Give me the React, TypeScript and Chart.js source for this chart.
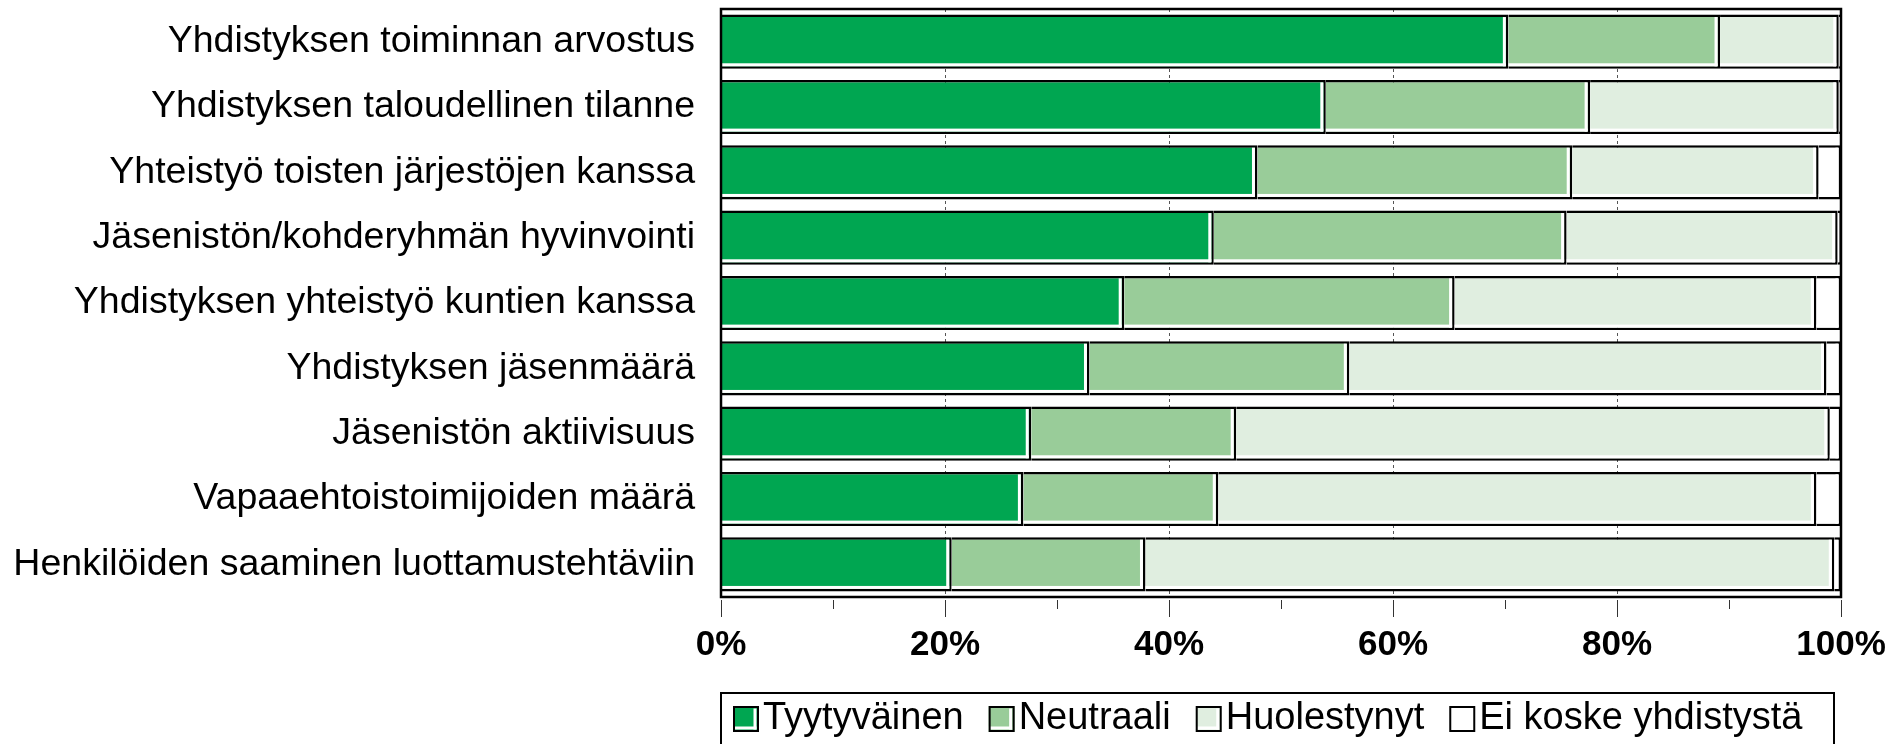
import { useEffect, useRef } from 'react';
import { Chart, registerables } from 'chart.js';

Chart.register(...registerables);

const categories = [
  'Yhdistyksen toiminnan arvostus',
  'Yhdistyksen taloudellinen tilanne',
  'Yhteistyö toisten järjestöjen kanssa',
  'Jäsenistön/kohderyhmän hyvinvointi',
  'Yhdistyksen yhteistyö kuntien kanssa',
  'Yhdistyksen jäsenmäärä',
  'Jäsenistön aktiivisuus',
  'Vapaaehtoistoimijoiden määrä',
  'Henkilöiden saaminen luottamustehtäviin',
];
const seriesNames = ['Tyytyväinen', 'Neutraali', 'Huolestynyt', 'Ei koske yhdistystä'];
const tyytyvainen = [70.3, 54.0, 47.9, 44.0, 36.0, 32.9, 27.7, 27.0, 20.6];
const neutraali = [18.9, 23.6, 28.1, 31.5, 29.5, 23.2, 18.3, 17.4, 17.3];
const huolestynyt = [10.6, 22.2, 22.0, 24.2, 32.3, 42.6, 53.0, 53.4, 61.5];
const eiKoske = [0.2, 0.2, 2.0, 0.3, 2.2, 1.3, 1.0, 2.2, 0.6];
const xMajorTicks = [0, 20, 40, 60, 80, 100];
const xMinorTicks = [10, 30, 50, 70, 90];
const seriesColors = ['#00A651', '#99CC99', '#E0EEE0', '#FFFFFF'];

const FONT = '"Liberation Sans", Arial, Helvetica, sans-serif';
const BW = 2.5;
const GAP = 3;

const decorPlugin = {
  id: 'decor',
  beforeDatasetsDraw(chart: any) {
    const { ctx, chartArea } = chart;
    const xs = chart.scales.x;
    ctx.save();
    ctx.strokeStyle = '#555';
    ctx.lineWidth = 1;
    ctx.setLineDash([3, 3]);
    xMajorTicks.slice(1, -1).forEach((v) => {
      const x = Math.round(xs.getPixelForValue(v)) + 0.5;
      ctx.beginPath();
      ctx.moveTo(x, chartArea.top);
      ctx.lineTo(x, chartArea.bottom);
      ctx.stroke();
    });
    ctx.restore();
  },
  afterDatasetsDraw(chart: any) {
    const { ctx, chartArea } = chart;
    ctx.save();
    ctx.fillStyle = '#FFFFFF';
    chart.data.datasets.forEach((_ds: any, i: number) => {
      const meta = chart.getDatasetMeta(i);
      meta.data.forEach((el: any) => {
        const p = el.getProps(['x', 'y', 'base', 'height'], true);
        const left = Math.min(p.x, p.base);
        const right = Math.max(p.x, p.base);
        const top = p.y - p.height / 2;
        const bottom = p.y + p.height / 2;
        if (right - left < BW + GAP + 2) return;
        ctx.fillRect(right - BW - GAP, top + BW, GAP, bottom - top - 2 * BW);
        ctx.fillRect(left, bottom - BW - GAP, right - left - BW, GAP);
      });
    });
    ctx.strokeStyle = '#000';
    ctx.lineWidth = 2.5;
    ctx.strokeRect(chartArea.left, chartArea.top, chartArea.right - chartArea.left, chartArea.bottom - chartArea.top);
    ctx.restore();
  },
  afterDraw(chart: any) {
    const { ctx, chartArea } = chart;
    const xs = chart.scales.x;
    ctx.save();
    // tick marks
    ctx.strokeStyle = '#333';
    ctx.lineWidth = 1;
    const y0 = chartArea.bottom + 3;
    xMajorTicks.forEach((v) => {
      const x = Math.round(xs.getPixelForValue(v)) + 0.5;
      ctx.beginPath();
      ctx.moveTo(x, y0);
      ctx.lineTo(x, y0 + 17);
      ctx.stroke();
    });
    xMinorTicks.forEach((v) => {
      const x = Math.round(xs.getPixelForValue(v)) + 0.5;
      ctx.beginPath();
      ctx.moveTo(x, y0);
      ctx.lineTo(x, y0 + 9);
      ctx.stroke();
    });
    // legend
    const boxTop = chartArea.bottom + 96;
    const boxLeft = chartArea.left;
    const boxRight = chartArea.right - 7;
    ctx.lineWidth = 2;
    ctx.strokeStyle = '#000';
    ctx.beginPath();
    ctx.moveTo(boxLeft, chart.height + 10);
    ctx.lineTo(boxLeft, boxTop);
    ctx.lineTo(boxRight, boxTop);
    ctx.lineTo(boxRight, chart.height + 10);
    ctx.stroke();
    const cy = boxTop + 26;
    const sq = 26;
    ctx.font = `38px ${FONT}`;
    ctx.textBaseline = 'middle';
    ctx.textAlign = 'left';
    let x = boxLeft + 12;
    chart.data.datasets.forEach((ds: any) => {
      const sTop = cy - sq / 2;
      ctx.fillStyle = ds.backgroundColor;
      ctx.fillRect(x, sTop, sq, sq);
      ctx.fillStyle = '#FFFFFF';
      ctx.fillRect(x + sq - BW - GAP, sTop + BW, GAP, sq - 2 * BW);
      ctx.fillRect(x, sTop + sq - BW - GAP, sq - BW, GAP);
      ctx.strokeStyle = '#000';
      ctx.lineWidth = 2;
      ctx.strokeRect(x + 1, sTop + 1, sq - 2, sq - 2);
      ctx.fillStyle = '#000';
      const tx = x + sq + 4;
      ctx.fillText(ds.label, tx, cy);
      x = tx + ctx.measureText(ds.label).width + 25;
    });
    ctx.restore();
  },
};

export default function App() {
  const ref = useRef<HTMLCanvasElement | null>(null);
  useEffect(() => {
    if (!ref.current) return;
    const values = [tyytyvainen, neutraali, huolestynyt, eiKoske];
    const chart = new Chart(ref.current, {
      type: 'bar',
      data: {
        labels: categories,
        datasets: seriesNames.map((name, i) => ({
          label: name,
          data: values[i],
          backgroundColor: seriesColors[i],
          borderColor: '#000',
          borderWidth: BW,
          borderSkipped: 'start',
          categoryPercentage: 1,
          barPercentage: 0.83,
        })),
      },
      options: {
        indexAxis: 'y',
        animation: false,
        responsive: true,
        maintainAspectRatio: false,
        layout: { padding: { top: 9, bottom: 77, left: 0, right: 0 } },
        plugins: {
          legend: { display: false },
          tooltip: { enabled: false },
        },
        scales: {
          x: {
            stacked: true,
            min: 0,
            max: 100,
            grid: { display: false, drawTicks: false },
            border: { display: false },
            ticks: {
              stepSize: 20,
              callback: (v: any) => `${v}%`,
              color: '#000',
              padding: 27,
              font: { family: FONT, size: 35, weight: 'bold' },
              maxRotation: 0,
            },
            afterFit: (scale: any) => {
              scale.paddingRight = 46;
              scale.paddingLeft = 0;
              scale.height = 70;
            },
          },
          y: {
            stacked: true,
            grid: { display: false, drawTicks: false },
            border: { display: false },
            ticks: {
              color: '#000',
              padding: 26,
              autoSkip: false,
              font: { family: FONT, size: 37.5 },
            },
            afterFit: (scale: any) => {
              scale.width = 721;
              scale.paddingTop = 0;
              scale.paddingBottom = 0;
            },
          },
        },
      },
      plugins: [decorPlugin],
    } as any);
    return () => chart.destroy();
  }, []);
  return (
    <div style={{ position: 'fixed', left: 0, top: 0, width: 1887, height: 744, background: '#fff' }}>
      <canvas ref={ref} />
    </div>
  );
}
